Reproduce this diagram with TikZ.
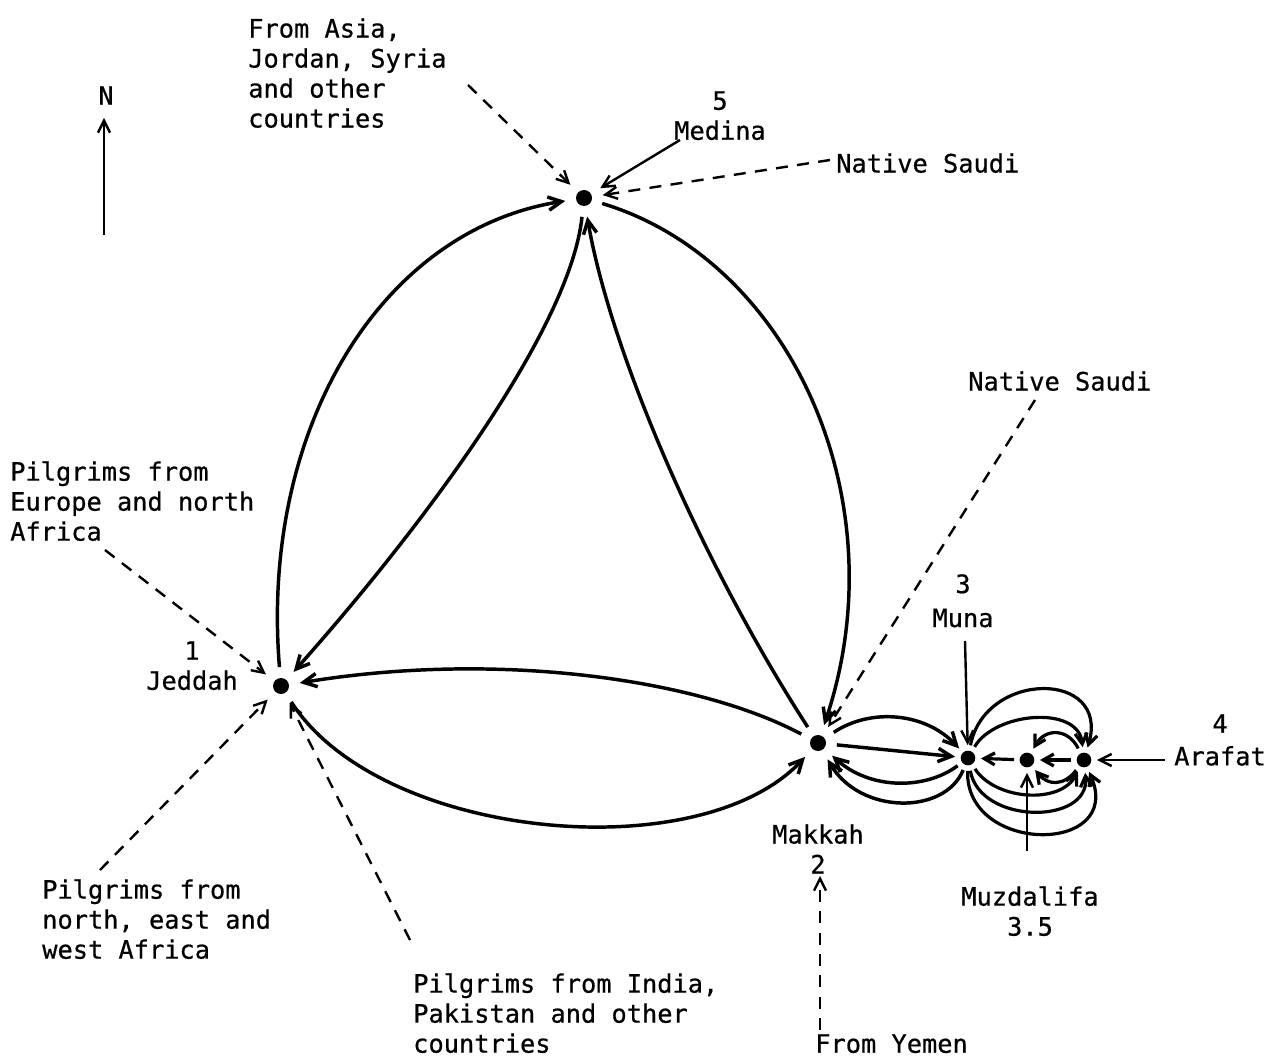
\documentclass[tikz,border=0pt]{standalone}
\usepackage{fontspec}
\newfontfamily\lblfont[FakeBold=0.6]{DejaVu Sans Mono}
\usetikzlibrary{arrows.meta}
\begin{document}
\begin{tikzpicture}[x=0.75pt,y=0.75pt,
  bigdot/.style={circle, minimum size=28pt, inner sep=0pt,
    path picture={\fill (path picture bounding box.center) circle[radius=6pt];}},
  smalldot/.style={circle, minimum size=19pt, inner sep=0pt,
    path picture={\fill (path picture bounding box.center) circle[radius=5.5pt];}},
  flow/.style={line width=2.6pt, -{Straight Barb[length=10pt,width=10pt]}},
  sflow/.style={line width=2.4pt, -{Straight Barb[length=8pt,width=9pt]}},
  feed/.style={line width=1.8pt, -{Straight Barb[length=9pt,width=9pt]}},
  dashfeed/.style={feed, dash pattern=on 9pt off 7pt},
  lbl/.style={font=\lblfont\fontsize{19}{22.5}\selectfont, inner sep=0pt, align=left, anchor=north west},
  clbl/.style={font=\lblfont\fontsize{19}{22.5}\selectfont, inner sep=0pt, align=center, anchor=north},
]
\useasboundingbox[fill=white] (0,0) rectangle (1282,-1059);

% places
\node[bigdot] (J) at (281,-686) {};
\node[bigdot] (M) at (584,-198) {};
\node[bigdot] (K) at (818,-743) {};
\node[smalldot] (U) at (968,-758) {};
\node[smalldot] (Z) at (1027,-760) {};
\node[smalldot] (A) at (1084,-760) {};

% labels
\node[clbl] (nlab) at (106,-86) {N};
\node[lbl] (asialab) at (248,-18) {From Asia,\\Jordan, Syria\\and other\\countries};
\node[clbl] (medlab) at (720,-91) {5\\Medina};
\node[lbl] (saudilab1) at (836,-153) {Native Saudi};
\node[lbl] (eurlab) at (10,-461) {Pilgrims from\\Europe and north\\Africa};
\node[clbl] (jedlab) at (192,-641) {1\\Jeddah};
\node[lbl] (afrlab) at (42,-879) {Pilgrims from\\north, east and\\west Africa};
\node[lbl] (indlab) at (413,-973) {Pilgrims from India,\\Pakistan and other\\countries};
\node[clbl] (makklab) at (818,-824) {Makkah\\2};
\node[lbl] (yemlab) at (815,-1034) {From Yemen};
\node[lbl] (saudilab2) at (968,-371) {Native Saudi};
\node[clbl] (munalab) at (963,-574) {3\\[3pt]Muna};
\node[clbl] (aralab) at (1220,-714) {4\\[2pt]Arafat};
\node[clbl] (muzlab) at (1030,-886) {Muzdalifa\\3.5};

% free ends of feeder arrows
\coordinate (nS) at (104,-235);
\coordinate (nE) at (104,-118);
\coordinate (medS) at (680,-140);
\coordinate (saudiT) at (830,-160);
\coordinate (asiaS) at (468,-85);
\coordinate (eurS) at (105,-550);
\coordinate (afrS) at (100,-870);
\coordinate (indS) at (410,-940);
\coordinate (saudiR) at (1035,-400);
\coordinate (yemS) at (820,-1030);
\coordinate (yemE) at (820,-876);
\coordinate (munaS) at (965,-641);
\coordinate (araS) at (1165,-760);
\coordinate (muzS) at (1027,-851);

% north arrow
\draw[feed] (nS) -- (nE);

% feeders
\draw[feed] (medS) -- (M);
\draw[dashfeed] (saudiT) -- (M);
\draw[dashfeed] (asiaS) -- (M);
\draw[dashfeed] (eurS) -- (J);
\draw[dashfeed] (afrS) -- (J);
\draw[dashfeed] (indS) -- (J);
\draw[dashfeed] (saudiR) -- (K);
\draw[dashfeed] (yemS) -- (yemE);
\draw[feed] (munaS) -- (U);
\draw[feed] (araS) -- (A);
\draw[feed] (muzS) -- (Z);

% main flows
\draw[flow] (J) .. controls (260,-430) and (380,-230) .. (M);
\draw[flow] (M) .. controls (570,-330) and (420,-530) .. (J);
\draw[flow] (K) .. controls (700,-680) and (500,-650) .. (J);
\draw[flow] (J) .. controls (380,-840) and (700,-870) .. (K);
\draw[flow] (K) .. controls (700,-560) and (610,-350) .. (M);
\draw[flow] (M) .. controls (790,-260) and (900,-500) .. (K);

% Makkah - Muna
\draw[flow] (K) -- (U);
\draw[flow] (K) .. controls (870,-708) and (925,-712) .. (U);
\draw[flow] (U) .. controls (925,-790) and (870,-790) .. (K);
\draw[flow] (U) .. controls (945,-815) and (860,-815) .. (K);

% Muna - Muzdalifa - Arafat
\draw[sflow] (Z) -- (U);
\draw[sflow] (A) -- (Z);
\draw[sflow] (A) .. controls (1068,-728) and (1045,-728) .. (Z);
\draw[sflow] (A) .. controls (1064,-786) and (1048,-786) .. (Z);
\draw[sflow] (U) .. controls (995,-712) and (1078,-705) .. (A);
\draw[sflow] (U) .. controls (985,-670) and (1110,-670) .. (A);
\draw[sflow] (U) .. controls (995,-800) and (1060,-805) .. (A);
\draw[sflow] (U) .. controls (980,-825) and (1090,-825) .. (A);
\draw[sflow] (U) .. controls (965,-855) and (1125,-855) .. (A);
\end{tikzpicture}
\end{document}
